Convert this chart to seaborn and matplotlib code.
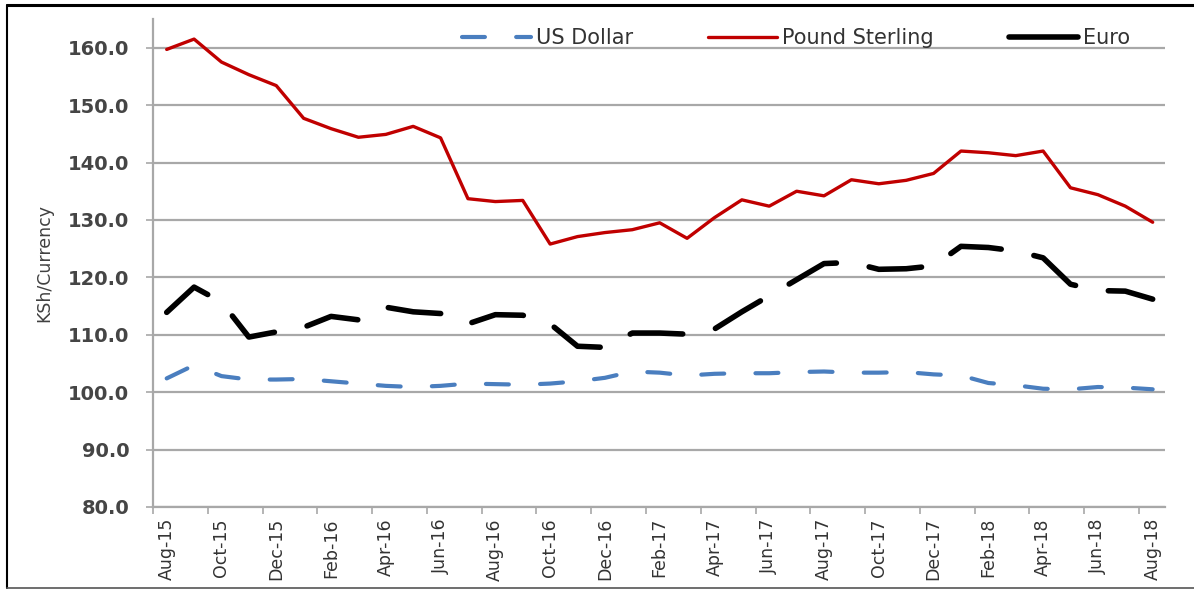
import matplotlib
matplotlib.use("Agg")
import matplotlib.pyplot as plt
from matplotlib.lines import Line2D
import seaborn as sns
import numpy as np
import pandas as pd

months = ["Aug-15", "Sep-15", "Oct-15", "Nov-15", "Dec-15", "Jan-16", "Feb-16", "Mar-16",
          "Apr-16", "May-16", "Jun-16", "Jul-16", "Aug-16", "Sep-16", "Oct-16", "Nov-16",
          "Dec-16", "Jan-17", "Feb-17", "Mar-17", "Apr-17", "May-17", "Jun-17", "Jul-17",
          "Aug-17", "Sep-17", "Oct-17", "Nov-17", "Dec-17", "Jan-18", "Feb-18", "Mar-18",
          "Apr-18", "May-18", "Jun-18", "Jul-18", "Aug-18"]

us_dollar = [102.4, 104.7, 102.8, 102.2, 102.2, 102.3, 101.9, 101.5, 101.1, 100.9, 101.1,
             101.5, 101.4, 101.3, 101.5, 101.9, 102.5, 103.6, 103.4, 102.9, 103.2, 103.3,
             103.3, 103.5, 103.6, 103.4, 103.4, 103.5, 103.1, 102.9, 101.6, 101.2, 100.6,
             100.5, 100.9, 100.8, 100.5]

pound_sterling = [159.7, 161.5, 157.5, 155.3, 153.4, 147.7, 145.9, 144.4, 144.9, 146.3, 144.3,
                  133.7, 133.2, 133.4, 125.8, 127.1, 127.8, 128.3, 129.5, 126.8, 130.4, 133.5,
                  132.4, 135.0, 134.2, 137.0, 136.3, 136.9, 138.1, 142.0, 141.7, 141.2, 142.0,
                  135.6, 134.4, 132.4, 129.6]

euro = [113.9, 118.3, 115.7, 109.6, 110.5, 111.3, 113.2, 112.6, 114.8, 114.0, 113.7, 111.9,
        113.5, 113.4, 111.9, 108.0, 107.8, 110.3, 110.3, 110.1, 111.0, 114.0, 116.8, 119.6,
        122.4, 122.6, 121.4, 121.5, 122.0, 125.4, 125.2, 124.6, 123.4, 118.8, 117.7, 117.6,
        116.2]

series_names = ["US Dollar", "Pound Sterling", "Euro"]
y_ticks = [80, 90, 100, 110, 120, 130, 140, 150, 160]
y_label = "KSh/Currency"

sns.set_style("white")
plt.rcParams["font.family"] = ["DejaVu Sans"]

W, H = 1194, 590
fig = plt.figure(figsize=(W / 100, H / 100), dpi=100)
fig.patch.set_facecolor("white")
ax = fig.add_axes([153 / W, (H - 507) / H, 1012 / W, (507 - 19) / H])

x = np.arange(len(months))
df = pd.DataFrame({"idx": x, "usd": us_dollar, "gbp": pound_sterling, "eur": euro})

grid_c = "#a8a8a8"
ax.set_axisbelow(True)
for v in y_ticks:
    ax.axhline(v, color=grid_c, lw=1.6, zorder=0)

sns.lineplot(data=df, x="idx", y="gbp", ax=ax, color="#c00000", lw=2.4,
             solid_joinstyle="round", zorder=3)
sns.lineplot(data=df, x="idx", y="eur", ax=ax, color="#000000", lw=4.0,
             linestyle=(0, (9.5, 6.0)), dash_capstyle="round", dash_joinstyle="round", zorder=3)
sns.lineplot(data=df, x="idx", y="usd", ax=ax, color="#4a7ebf", lw=3.0,
             linestyle=(0, (5.5, 7.5)), dash_capstyle="round", dash_joinstyle="round", zorder=3)

ax.set_xlim(-0.5, 36.45)
ax.set_ylim(80, 165)

ax.set_yticks(y_ticks)
ax.set_yticklabels([f"{v:.1f}" for v in y_ticks], fontsize=14, fontweight="bold",
                   color="#454545")
ax.tick_params(axis="y", direction="out", length=5, width=1.2, color=grid_c, pad=12, left=True)

ax.set_xticks(x[::2])
ax.set_xticklabels(months[::2], rotation=90, fontsize=12.5, color="#333333")
ax.set_xticks(np.arange(-0.5, 36, 2), minor=True)
ax.tick_params(axis="x", which="major", length=0, pad=8, bottom=True)
ax.tick_params(axis="x", which="minor", direction="out", length=5, width=1.2, color=grid_c,
               bottom=True)

ax.set_xlabel("")
ax.set_ylabel(y_label, fontsize=12.5, color="#404040")
ax.yaxis.set_label_coords(-0.099, 0.50)

for s in ["top", "right"]:
    ax.spines[s].set_visible(False)
for s in ["left", "bottom"]:
    ax.spines[s].set_color(grid_c)
    ax.spines[s].set_linewidth(1.6)

handles = [
    Line2D([], [], color="#4a7ebf", lw=3.0, linestyle=(0, (5.5, 7.5)), dash_capstyle="round"),
    Line2D([], [], color="#c00000", lw=2.4),
    Line2D([], [], color="#000000", lw=4.0, solid_capstyle="round"),
]
leg = fig.legend(handles, series_names, loc="center", bbox_to_anchor=(796 / W, (H - 38) / H),
                 ncol=3, frameon=False, fontsize=15, handlelength=3.3, handletextpad=0.25,
                 columnspacing=3.6, borderpad=0, borderaxespad=0)
for t in leg.get_texts():
    t.set_color("#333333")

# outer frame of the chart
fig.add_artist(Line2D([7 / W, 1.0], [1 - 5 / H, 1 - 5 / H], transform=fig.transFigure,
                      color="black", lw=2.2))
fig.add_artist(Line2D([7 / W, 7 / W], [2 / H, 1 - 5 / H], transform=fig.transFigure,
                      color="black", lw=1.5))
fig.add_artist(Line2D([7 / W, 1.0], [2 / H, 2 / H], transform=fig.transFigure,
                      color="#555555", lw=1.2))

fig.savefig("out.png", dpi=100)
